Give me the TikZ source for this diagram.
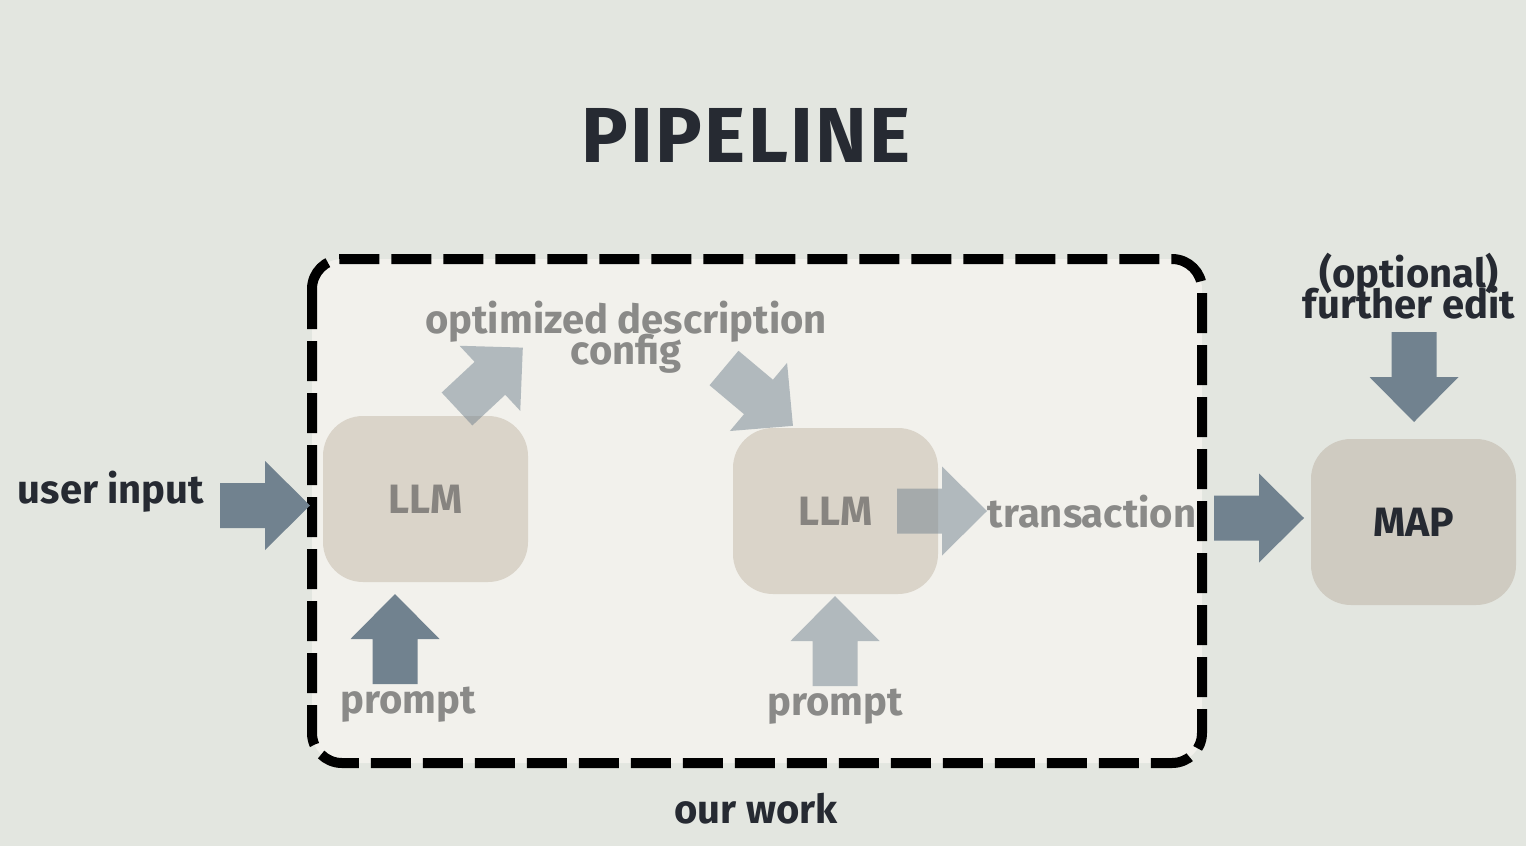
\documentclass[tikz,border=0pt]{standalone}
\usepackage{fontspec}
\setmainfont{Fira Sans}
\definecolor{bgc}{HTML}{E3E6E0}
\definecolor{innerc}{HTML}{F2F1EC}
\definecolor{llmbox}{HTML}{DAD4C9}
\definecolor{mapbox}{HTML}{CFCBC1}
\definecolor{ink}{HTML}{262A32}
\definecolor{greyink}{HTML}{8A8A88}
\definecolor{llmink}{HTML}{878480}
\definecolor{arr}{HTML}{71828F}
\newcommand{\tightlines}{\lineskiplimit=-30pt\relax}
\tikzset{
  pics/blockarrow/.style={code={
    \fill[#1] (0,-22.5) -- (45,-22.5) -- (45,-44.5) -- (90,0) -- (45,44.5) -- (45,22.5) -- (0,22.5) -- cycle;}},
  lab/.style={font=\fontsize{20}{15.5}\selectfont\bfseries\tightlines, text=ink, inner sep=0pt, align=center},
  greylab/.style={lab, text=greyink},
  boxnode/.style={rounded corners=20pt, minimum width=102.5pt, minimum height=83pt, inner sep=0pt,
    font=\fontsize{20.5}{24}\selectfont\bfseries},
  frame/.style={line width=5pt, dash pattern=on 20pt off 6pt, rounded corners=15pt, fill=innerc},
}
\begin{document}
\begin{tikzpicture}[x=0.5pt,y=-0.5pt]
\useasboundingbox (0,0) rectangle (1526,846);
\fill[bgc] (0,0) rectangle (1526,846);
% frame
\draw[frame] (312,259) rectangle (1202,763);
% boxes
\node[boxnode, fill=llmbox, text=llmink] (llm1) at (425.5,499) {LLM};
\node[boxnode, fill=llmbox, text=llmink] (llm2) at (835.5,511) {LLM};
\node[boxnode, fill=mapbox, text=ink] (map) at (1413.5,522) {MAP};
% arrows
\pic[rotate=0] at (220,505.5) {blockarrow=arr};
\pic[rotate=90] at (395,684) {blockarrow=arr};
\pic[rotate=90] at (835,686) {blockarrow={arr,fill opacity=0.5}};
\pic[rotate=43] at (457,409) {blockarrow={arr,fill opacity=0.5}};
\pic[rotate=-40] at (724,368) {blockarrow={arr,fill opacity=0.5}};
\pic[rotate=0] at (897,511) {blockarrow={arr,fill opacity=0.5}};
\pic[rotate=0] at (1214,518) {blockarrow=arr};
\pic[rotate=-90] at (1414,332) {blockarrow=arr};
% texts
\node[font=\fontsize{39}{47}\selectfont\bfseries\addfontfeatures{LetterSpace=3}, text=ink, anchor=base, inner sep=0pt] (title) at (746,162) {PIPELINE};
\node[lab, anchor=base] (user) at (111,503) {user input};
\node[greylab, anchor=base] (opt) at (626,364) {optimized description\\config};
\node[lab, anchor=base] (further) at (1409,318) {(optional)\\further edit};
\node[greylab, anchor=base] (trans) at (1092,527) {transaction};
\node[greylab, anchor=base] (p1) at (408,713) {prompt};
\node[greylab, anchor=base] (p2) at (835,715) {prompt};
\node[lab, anchor=base] (ours) at (756,823) {our work};
\end{tikzpicture}
\end{document}
